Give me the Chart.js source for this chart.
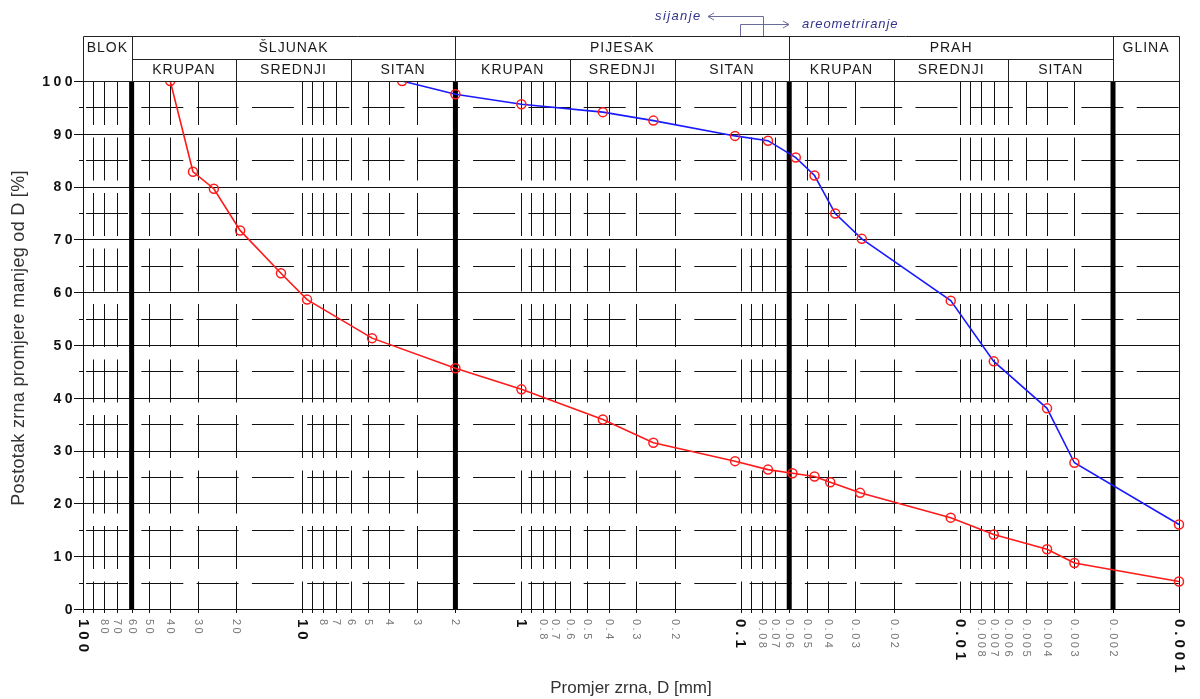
<!DOCTYPE html>
<html>
<head>
<meta charset="utf-8">
<script src="https://cdn.jsdelivr.net/npm/chart.js@4.4.1/dist/chart.umd.min.js"></script>
<style>
  html, body { margin: 0; padding: 0; background: #fff; }
  #wrap { width: 1200px; height: 699px; }
</style>
</head>
<body>
<div id="wrap"><canvas id="granChart" width="1200" height="699"></canvas></div>
<script>
// ─── Podaci (očitano s dijagrama) ────────────────────────────────────────────
const promjerCrveno  = [40, 31.5, 25.3, 19.2, 12.5, 9.5, 4.8, 2, 1, 0.425, 0.25, 0.106, 0.075, 0.058, 0.046, 0.039, 0.0285, 0.011, 0.007, 0.004, 0.003, 0.001];
const postotakCrveno = [100, 82.8, 79.6, 71.7, 63.6, 58.6, 51.3, 45.6, 41.6, 35.9, 31.5, 28.0, 26.4, 25.7, 25.1, 24.0, 22.0, 17.3, 14.1, 11.3, 8.7, 5.2];

const promjerPlavo  = [3.5, 2, 1, 0.425, 0.25, 0.106, 0.075, 0.056, 0.046, 0.037, 0.028, 0.011, 0.007, 0.004, 0.003, 0.001];
const postotakPlavo = [100, 97.5, 95.6, 94.1, 92.5, 89.6, 88.7, 85.5, 82.1, 74.9, 70.1, 58.4, 46.9, 38.0, 27.7, 16.0];

// linije mreže i oznake osi
const mrezaX = [90, 80, 70, 50, 40, 30, 20, 10, 9, 8, 7, 6, 5, 4, 3, 1, 0.9, 0.8, 0.7, 0.6, 0.5, 0.4, 0.3, 0.2,
                0.1, 0.09, 0.08, 0.07, 0.05, 0.04, 0.03, 0.02, 0.01, 0.009, 0.008, 0.007, 0.006, 0.005, 0.004, 0.003];
const debeleGranice = [60, 2, 0.06, 0.002];
const glavneOznakeX = [100, 10, 1, 0.1, 0.01, 0.001];
const sporedneOznakeX = [80, 70, 60, 50, 40, 30, 20, 8, 7, 6, 5, 4, 3, 2, 0.8, 0.7, 0.6, 0.5, 0.4, 0.3, 0.2,
                         0.08, 0.07, 0.06, 0.05, 0.04, 0.03, 0.02, 0.008, 0.007, 0.006, 0.005, 0.004, 0.003, 0.002];
const oznakeY = [0, 10, 20, 30, 40, 50, 60, 70, 80, 90, 100];

// zaglavlje: frakcije i podfrakcije
const frakcije = ['BLOK', 'ŠLJUNAK', 'PIJESAK', 'PRAH', 'GLINA'];
const graniceFrakcija = [100, 60, 2, 0.06, 0.002, 0.001];
const podfrakcije = ['KRUPAN', 'SREDNJI', 'SITAN'];
const granicePodfrakcija = [
  [60, 20, 6, 2],
  [2, 0.6, 0.2, 0.06],
  [0.06, 0.02, 0.006, 0.002],
];

// ─── Crtanje mreže, zaglavlja i natpisa ──────────────────────────────────────
function linija(ctx, x1, y1, x2, y2) {
  ctx.beginPath();
  ctx.moveTo(x1, y1);
  ctx.lineTo(x2, y2);
  ctx.stroke();
}

const mrezaPlugin = {
  id: 'mreza',
  beforeDatasetsDraw(chart) {
    const { ctx, chartArea: a, scales: { x, y } } = chart;
    const px = v => Math.round(x.getPixelForValue(v)) + 0.5;
    const py = v => Math.round(y.getPixelForValue(v)) + 0.5;
    ctx.save();
    ctx.strokeStyle = '#111';
    ctx.lineWidth = 1;

    // polovične horizontale (5, 15, ...) isprekidano
    ctx.setLineDash([42, 13.3]);
    ctx.lineDashOffset = -3;
    for (let p = 5; p < 100; p += 10) linija(ctx, a.left, py(p), a.right, py(p));

    // vertikale isprekidano
    ctx.setLineDash([43, 12.5]);
    ctx.lineDashOffset = -1;
    mrezaX.forEach(v => linija(ctx, px(v), a.top, px(v), a.bottom));

    ctx.setLineDash([]);
    // glavne horizontale
    for (let p = 0; p <= 100; p += 10) linija(ctx, a.left, py(p), a.right, py(p));
    // rubovi
    linija(ctx, px(100), a.top, px(100), a.bottom);
    linija(ctx, px(0.001), a.top, px(0.001), a.bottom);

    // crtice ispod osi x
    [100, ...mrezaX, ...debeleGranice, 0.001].forEach(v => linija(ctx, px(v), a.bottom, px(v), a.bottom + 4));
    // crtice lijevo od osi y
    for (let p = 0; p <= 100; p += 5) {
      const d = p % 10 === 0 ? 9 : 4;
      linija(ctx, a.left - d, py(p), a.left, py(p));
    }

    // debele granice frakcija
    ctx.lineWidth = 5;
    ctx.strokeStyle = '#000';
    debeleGranice.forEach(v => linija(ctx, x.getPixelForValue(v), a.top, x.getPixelForValue(v), a.bottom));
    ctx.restore();
  },
  afterDraw(chart) {
    const { ctx, chartArea: a, scales: { x, y } } = chart;
    const px = v => Math.round(x.getPixelForValue(v)) + 0.5;
    const vrh = 36.5, sredina = 59.5, dno = Math.round(a.top) + 0.5;
    ctx.save();

    // ── zaglavlje ──
    ctx.strokeStyle = '#222';
    ctx.lineWidth = 1;
    linija(ctx, px(100), vrh, px(0.001), vrh);
    linija(ctx, px(100), dno, px(0.001), dno);
    linija(ctx, px(60), sredina, px(0.002), sredina);
    graniceFrakcija.forEach(v => linija(ctx, px(v), vrh, px(v), dno));
    granicePodfrakcija.forEach(g => g.slice(1, 3).forEach(v => linija(ctx, px(v), sredina, px(v), dno)));

    ctx.fillStyle = '#1a1a1a';
    ctx.font = '14px "Liberation Sans", Arial, sans-serif';
    ctx.letterSpacing = '1px';
    ctx.textAlign = 'center';
    ctx.textBaseline = 'middle';
    frakcije.forEach((naziv, i) => {
      const cx = (x.getPixelForValue(graniceFrakcija[i]) + x.getPixelForValue(graniceFrakcija[i + 1])) / 2;
      ctx.fillText(naziv, cx, 48);
    });
    granicePodfrakcija.forEach(g => {
      podfrakcije.forEach((naziv, j) => {
        const cx = (x.getPixelForValue(g[j]) + x.getPixelForValue(g[j + 1])) / 2;
        ctx.fillText(naziv, cx, 70);
      });
    });

    // ── oznake osi y ──
    ctx.font = 'bold 14px "Liberation Sans", Arial, sans-serif';
    ctx.letterSpacing = '3.5px';
    ctx.textAlign = 'right';
    ctx.fillStyle = '#111';
    oznakeY.forEach(p => ctx.fillText(String(p), a.left - 7, y.getPixelForValue(p) + 1));

    // ── oznake osi x (okomito, čitaju se odozgo prema dolje) ──
    const okomito = (tekst, v) => {
      ctx.save();
      ctx.translate(x.getPixelForValue(v), a.bottom + 10);
      ctx.rotate(Math.PI / 2);
      ctx.textAlign = 'left';
      ctx.textBaseline = 'middle';
      ctx.fillText(tekst, 0, 0);
      ctx.restore();
    };
    ctx.font = '11px "Liberation Sans", Arial, sans-serif';
    ctx.letterSpacing = '2.5px';
    ctx.fillStyle = '#777';
    sporedneOznakeX.forEach(v => okomito(String(v), v));
    ctx.font = 'bold 15px "Liberation Sans", Arial, sans-serif';
    ctx.letterSpacing = '4px';
    ctx.fillStyle = '#111';
    glavneOznakeX.forEach(v => okomito(String(v), v));

    // ── naslovi osi ──
    ctx.letterSpacing = '0px';
    ctx.font = '17px "Liberation Sans", Arial, sans-serif';
    ctx.fillStyle = '#333';
    ctx.textAlign = 'center';
    ctx.fillText('Promjer zrna, D [mm]', 631, 688);
    ctx.save();
    ctx.translate(19, 338);
    ctx.rotate(-Math.PI / 2);
    ctx.font = '18px "Liberation Sans", Arial, sans-serif';
    ctx.letterSpacing = '0.3px';
    ctx.fillText('Postotak zrna promjere manjeg od D [%]', 0, 0);
    ctx.restore();

    // ── sijanje / areometriranje ──
    ctx.strokeStyle = '#6a6a9c';
    ctx.lineWidth = 1;
    linija(ctx, 763.5, 16.5, 763.5, 36);
    linija(ctx, 708, 16.5, 763.5, 16.5);
    linija(ctx, 708, 16.5, 714, 13);
    linija(ctx, 708, 16.5, 714, 20);
    linija(ctx, 740.5, 36, 740.5, 24.5);
    linija(ctx, 740.5, 24.5, 789, 24.5);
    linija(ctx, 789, 24.5, 783, 21);
    linija(ctx, 789, 24.5, 783, 28);

    ctx.font = 'italic 13px "Liberation Sans", Arial, sans-serif';
    ctx.fillStyle = '#33338c';
    ctx.textAlign = 'left';
    ctx.letterSpacing = '1.4px';
    ctx.fillText('sijanje', 655, 16);
    ctx.letterSpacing = '0.9px';
    ctx.fillText('areometriranje', 802, 24);
    ctx.restore();
  }
};

// ─── Grafikon ────────────────────────────────────────────────────────────────
const tocke = (xs, ys) => xs.map((d, i) => ({ x: d, y: ys[i] }));

const ctx = document.getElementById('granChart').getContext('2d');
new Chart(ctx, {
  type: 'line',
  data: {
    datasets: [
      {
        label: 'Uzorak 1',
        data: tocke(promjerCrveno, postotakCrveno),
        borderColor: '#ff1a1a',
        borderWidth: 1.6,
        pointRadius: 4.5,
        pointBorderWidth: 1.5,
        pointBorderColor: '#ff1a1a',
        pointBackgroundColor: 'rgba(0,0,0,0)',
        tension: 0,
        clip: { left: 10, top: 0, right: 10, bottom: 10 },
      },
      {
        label: 'Uzorak 2',
        data: tocke(promjerPlavo, postotakPlavo),
        borderColor: '#1a1aff',
        borderWidth: 1.6,
        pointRadius: 4.5,
        pointBorderWidth: 1.5,
        pointBorderColor: '#ff1a1a',
        pointBackgroundColor: 'rgba(0,0,0,0)',
        tension: 0,
        clip: { left: 10, top: 0, right: 10, bottom: 10 },
      },
    ]
  },
  options: {
    responsive: false,
    devicePixelRatio: 1,
    animation: false,
    layout: { padding: { left: 0, top: 81, right: 21, bottom: 0 } },
    plugins: {
      legend: { display: false },
      tooltip: { enabled: false },
    },
    scales: {
      x: {
        type: 'logarithmic',
        reverse: true,
        min: 0.001,
        max: 100,
        ticks: { display: false },
        grid: { display: false },
        border: { display: false },
        afterFit: s => { s.height = 90; },
      },
      y: {
        min: 0,
        max: 100,
        ticks: { display: false },
        grid: { display: false },
        border: { display: false },
        afterFit: s => { s.width = 83; },
      }
    }
  },
  plugins: [mrezaPlugin]
});
</script>
</body>
</html>
